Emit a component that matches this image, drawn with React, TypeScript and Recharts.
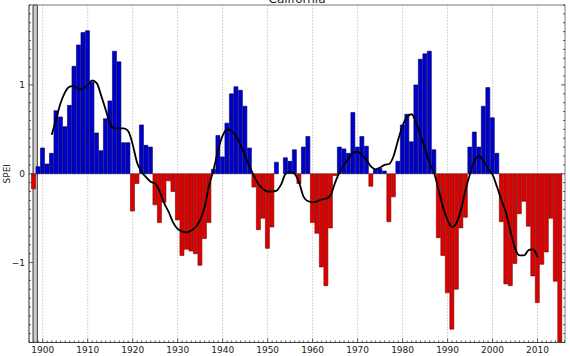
import { ComposedChart, Bar, Line, XAxis, YAxis, ReferenceLine, ReferenceArea, Cell } from 'recharts'

// yearly SPEI, California, 1898..2015
const firstYear = 1898
const speiValues = [
  -0.17, 0.08, 0.29, 0.11, 0.23, 0.71, 0.64, 0.53, 0.77, 1.21,
  1.45, 1.59, 1.61, 1.03, 0.46, 0.26, 0.62, 0.82, 1.38, 1.26,
  0.35, 0.35, -0.42, -0.11, 0.55, 0.32, 0.3, -0.35, -0.55, -0.32,
  -0.08, -0.2, -0.52, -0.92, -0.85, -0.87, -0.9, -1.03, -0.73, -0.55,
  0.05, 0.43, 0.19, 0.57, 0.9, 0.98, 0.94, 0.76, 0.29, -0.15,
  -0.63, -0.5, -0.84, -0.6, 0.13, 0, 0.18, 0.14, 0.27, -0.11,
  0.3, 0.42, -0.55, -0.67, -1.05, -1.26, -0.61, -0.02, 0.3, 0.28,
  0.23, 0.69, 0.3, 0.42, 0.31, -0.14, 0.05, 0.06, 0.03, -0.54,
  -0.26, 0.14, 0.55, 0.67, 0.36, 1.0, 1.29, 1.35, 1.38, 0.27,
  -0.72, -0.92, -1.34, -1.75, -1.3, -0.61, -0.49, 0.3, 0.47, 0.3,
  0.76, 0.97, 0.63, 0.23, -0.54, -1.24, -1.26, -1.01, -0.45, -0.31,
  -0.59, -1.15, -1.45, -1.02, -0.88, -0.5, -1.21, -2.4,
]

// smoothed curve, 1902..2010
const smoothStart = 1902
const smoothValues = [
  0.44, 0.62, 0.8, 0.92, 0.98, 0.99, 0.95, 0.96, 1.0, 1.05,
  1.02, 0.88, 0.72, 0.56, 0.51, 0.51, 0.51, 0.48, 0.33, 0.12,
  0.02, -0.04, -0.09, -0.11, -0.2, -0.33, -0.43, -0.55, -0.62, -0.65,
  -0.66, -0.64, -0.6, -0.52, -0.37, -0.13, 0.05, 0.27, 0.43, 0.5,
  0.48, 0.42, 0.32, 0.2, 0.08, -0.03, -0.12, -0.17, -0.2, -0.2,
  -0.19, -0.12, 0.0, 0.02, 0.0, -0.1, -0.26, -0.31, -0.32, -0.31,
  -0.29, -0.28, -0.24, -0.1, 0.02, 0.1, 0.17, 0.24, 0.25, 0.21,
  0.15, 0.08, 0.05, 0.07, 0.1, 0.11, 0.2, 0.38, 0.54, 0.64,
  0.67, 0.58, 0.43, 0.28, 0.12, 0.01, -0.18, -0.38, -0.52, -0.6,
  -0.55, -0.4, -0.18, 0.0, 0.15, 0.2, 0.14, 0.06, -0.01, -0.15,
  -0.3, -0.44, -0.65, -0.84, -0.92, -0.92, -0.86, -0.85, -0.94,
]

const decadeTicks = [1900, 1910, 1920, 1930, 1940, 1950, 1960, 1970, 1980, 1990, 2000, 2010]
const yLabels: Record<string, string> = { '-1': '\u22121', '0': '0', '1': '1' }

const X_DOMAIN: [number, number] = [1896.95, 2016.1]
const Y_DOMAIN: [number, number] = [-1.9, 1.9]

// minor ticks: every year on x, every 0.1 on y
const yearTicks = Array.from({ length: 120 }, (_, i) => 1897 + i)
const tenthTicks = Array.from({ length: 39 }, (_, i) => (i - 19) / 10)

const rows = speiValues.map((v, i) => {
  const year = firstYear + i
  const k = year - smoothStart
  return { year, spei: v, smooth: k >= 0 && k < smoothValues.length ? smoothValues[k] : null }
})

const FONT = 'DejaVu Sans, sans-serif'
const TICK = '#333'

function BottomTick({ x, y, payload }: any) {
  const major = payload.value % 10 === 0
  return (
    <g>
      <line x1={x} x2={x} y1={y} y2={y - (major ? 4 : 2)} stroke={TICK} strokeWidth={0.8} />
      {major && (
        <text x={x} y={y + 10} textAnchor="middle" fontSize={9} fontFamily={FONT} fill="#222">
          {payload.value}
        </text>
      )}
    </g>
  )
}

function TopTick({ x, y, payload }: any) {
  const major = payload.value % 10 === 0
  return <line x1={x} x2={x} y1={y} y2={y + (major ? 4 : 2)} stroke={TICK} strokeWidth={0.8} />
}

function LeftTick({ x, y, payload }: any) {
  const key = String(Math.round(payload.value * 10) / 10)
  const label = yLabels[key]
  return (
    <g>
      <line x1={x} x2={x + (label ? 4 : 2)} y1={y} y2={y} stroke={TICK} strokeWidth={0.8} />
      {label && (
        <text x={x - 4} y={y + 3} textAnchor="end" fontSize={9} fontFamily={FONT} fill="#222">
          {label}
        </text>
      )}
    </g>
  )
}

function RightTick({ x, y, payload }: any) {
  const major = Number.isInteger(Math.round(payload.value * 10) / 10)
  return <line x1={x} x2={x - (major ? 4 : 2)} y1={y} y2={y} stroke={TICK} strokeWidth={0.8} />
}

export default function App() {
  return (
    <div style={{ position: 'absolute', left: 0, top: 0 }}>
      <ComposedChart
        width={570}
        height={356}
        data={rows}
        margin={{ top: 4, right: 4, bottom: 0, left: 0 }}
      >
        {decadeTicks.map((d) => (
          <ReferenceLine key={d} x={d} stroke="#aaa" strokeDasharray="1 2" zIndex={-100} />
        ))}
        <XAxis
          dataKey="year"
          type="number"
          domain={X_DOMAIN}
          allowDataOverflow
          ticks={yearTicks}
          interval={0}
          height={13.5}
          tickSize={0}
          tickMargin={0}
          tickLine={false}
          tick={<BottomTick />}
          axisLine={{ stroke: '#444' }}
        />
        <XAxis
          xAxisId="top"
          orientation="top"
          type="number"
          domain={X_DOMAIN}
          allowDataOverflow
          ticks={yearTicks}
          interval={0}
          height={1}
          tickSize={0}
          tickMargin={0}
          tickLine={false}
          tick={<TopTick />}
          axisLine={{ stroke: '#777' }}
          label={{ value: 'California', position: 'top', offset: 1, fontSize: 12, fontFamily: FONT, fill: '#222' }}
        />
        <YAxis
          type="number"
          domain={Y_DOMAIN}
          allowDataOverflow
          ticks={tenthTicks}
          interval={0}
          width={29}
          tickSize={0}
          tickMargin={0}
          tickLine={false}
          tick={<LeftTick />}
          axisLine={{ stroke: '#222' }}
          label={{ value: 'SPEI', angle: -90, position: 'insideLeft', offset: 7, fontSize: 9, fontFamily: FONT, fill: '#222', style: { textAnchor: 'middle' } }}
        />
        <YAxis
          yAxisId="right"
          orientation="right"
          type="number"
          domain={Y_DOMAIN}
          allowDataOverflow
          ticks={tenthTicks}
          interval={0}
          width={1}
          tickSize={0}
          tickMargin={0}
          tickLine={false}
          tick={<RightTick />}
          axisLine={{ stroke: '#777' }}
        />
        <Bar dataKey="spei" barSize={4} isAnimationActive={false}>
          {rows.map((r) => (
            <Cell
              key={r.year}
              fill={r.spei >= 0 ? '#0000cc' : '#e00000'}
              stroke={r.spei >= 0 ? '#000060' : '#6a0000'}
              strokeWidth={0.6}
            />
          ))}
        </Bar>
        <Line
          dataKey="smooth"
          type="monotone"
          stroke="#000"
          strokeWidth={1.8}
          dot={false}
          connectNulls={false}
          isAnimationActive={false}
        />
        <ReferenceArea x1={1897.85} x2={1898.8} fill="#cfcfcf" fillOpacity={1} stroke="#333" strokeWidth={1} />
      </ComposedChart>
    </div>
  )
}
